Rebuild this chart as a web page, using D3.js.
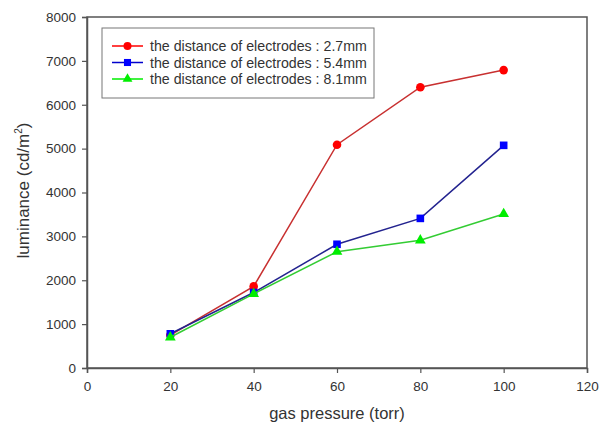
<!DOCTYPE html>
<html>
<head>
<meta charset="utf-8">
<script src="https://cdn.jsdelivr.net/npm/d3@7"></script>
<style>
  body { margin: 0; background: #fff; }
  text { font-family: "Liberation Sans", Arial, sans-serif; fill: #333; }
</style>
</head>
<body>
<div id="chart"></div>
<script>
var pressure = [20, 40, 60, 80, 100];
var lum27 = [750, 1860, 5090, 6400, 6790];
var lum54 = [780, 1720, 2820, 3410, 5075];
var lum81 = [700, 1690, 2650, 2910, 3510];
var seriesNames = [
  "the distance of electrodes : 2.7mm",
  "the distance of electrodes : 5.4mm",
  "the distance of electrodes : 8.1mm"
];
var xTicks = [0, 20, 40, 60, 80, 100, 120];
var yTicks = [0, 1000, 2000, 3000, 4000, 5000, 6000, 7000, 8000];

var width = 605, height = 429,
  margin = {left: 87, right: 18, top: 17, bottom: 61};

var series = [
  { name: seriesNames[0], values: lum27, line: "#c83030", key: "#ff0000", fill: "#ff0000", shape: d3.symbolCircle, size: 58 },
  { name: seriesNames[1], values: lum54, line: "#23238f", key: "#0000cc", fill: "#0000ff", shape: d3.symbolSquare, size: 58 },
  { name: seriesNames[2], values: lum81, line: "#33cc33", key: "#00ee00", fill: "#00ee00", shape: d3.symbolTriangle, size: 50 }
];

var svg = d3.select("#chart").append("svg")
  .attr("width", width).attr("height", height);
var chart = svg.append("g")
  .attr("transform", "translate(" + margin.left + "," + margin.top + ")");

var w = width - margin.left - margin.right,
  h = height - margin.top - margin.bottom;

var x = d3.scaleLinear().domain([0, 120]).range([0, w]);
var y = d3.scaleLinear().domain([0, 8000]).range([h, 0]);

// frame
chart.append("rect")
  .attr("width", w).attr("height", h)
  .attr("fill", "none").attr("stroke", "#555").attr("stroke-width", 1.5);

var xAxis = chart.append("g")
  .attr("transform", "translate(0," + h + ")")
  .call(d3.axisBottom(x).tickValues(xTicks).tickFormat(d3.format("d")).tickSize(5).tickPadding(8));
var yAxis = chart.append("g")
  .call(d3.axisLeft(y).tickValues(yTicks).tickFormat(d3.format("d")).tickSize(5).tickPadding(6));

[xAxis, yAxis].forEach(function (a) {
  a.select(".domain").attr("stroke", "#555").attr("stroke-width", 1.5);
  a.selectAll(".tick line").attr("stroke", "#555").attr("stroke-width", 1.2);
  a.selectAll("text").attr("font-size", 13.5).attr("fill", "#333")
    .style("font-family", "'Liberation Sans', Arial, sans-serif");
});

// axis titles
svg.append("text")
  .attr("x", margin.left + w / 2).attr("y", 419)
  .attr("text-anchor", "middle").attr("font-size", 16.5)
  .text("gas pressure (torr)");

var yt = svg.append("text")
  .attr("transform", "translate(29," + (margin.top + h / 2 - 2) + ") rotate(-90)")
  .attr("text-anchor", "middle").attr("font-size", 17);
yt.append("tspan").text("luminance (cd/m");
yt.append("tspan").attr("dy", -7).attr("font-size", 10).text("2");
yt.append("tspan").attr("dy", 7).text(")");

var line = d3.line()
  .x(function (d, i) { return x(pressure[i]); })
  .y(function (d) { return y(d); });

series.forEach(function (s) {
  chart.append("path")
    .datum(s.values)
    .attr("d", line)
    .attr("fill", "none")
    .attr("stroke", s.line)
    .attr("stroke-width", 1.5);
  chart.selectAll(null)
    .data(s.values)
    .enter().append("path")
    .attr("transform", function (d, i) { return "translate(" + x(pressure[i]) + "," + y(d) + ")"; })
    .attr("d", d3.symbol().type(s.shape).size(s.size))
    .attr("fill", s.fill);
});

// legend
var legend = svg.append("g").attr("transform", "translate(102,28)");
legend.append("rect")
  .attr("width", 272).attr("height", 70)
  .attr("fill", "#fff").attr("stroke", "#777").attr("stroke-width", 1);

series.forEach(function (s, i) {
  var ly = 18 + i * 16.5;
  legend.append("line")
    .attr("x1", 10).attr("x2", 41).attr("y1", ly).attr("y2", ly)
    .attr("stroke", s.key).attr("stroke-width", 1.5);
  legend.append("path")
    .attr("transform", "translate(25.5," + ly + ")")
    .attr("d", d3.symbol().type(s.shape).size(s.size - 8))
    .attr("fill", s.fill);
  legend.append("text")
    .attr("x", 48).attr("y", ly + 5)
    .attr("font-size", 14.2)
    .text(s.name);
});
</script>
</body>
</html>
